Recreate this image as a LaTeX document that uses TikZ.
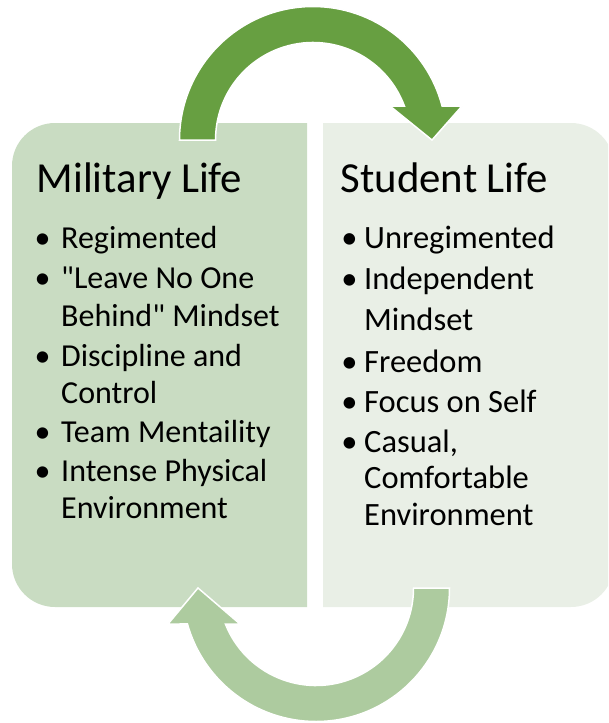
\documentclass[tikz,border=0pt]{standalone}
\usepackage{fontspec}
\setmainfont{Carlito}[Ligatures=TeXOff]
\definecolor{leftfill}{HTML}{C9DCC2}
\definecolor{rightfill}{HTML}{E9EFE6}
\definecolor{toparrow}{HTML}{679F41}
\definecolor{botarrow}{HTML}{ADCB9F}
\tikzset{
  ttl/.style={anchor=base west, inner sep=0pt, font=\fontsize{42.8}{50}\selectfont},
  ltxt/.style={anchor=base west, inner sep=0pt, font=\fontsize{32}{37}\selectfont},
  rtxt/.style={anchor=base west, inner sep=0pt, font=\fontsize{32.5}{38}\selectfont},
  lbul/.style={anchor=base, inner sep=0pt, font=\fontsize{32}{37}\selectfont},
  rbul/.style={anchor=base, inner sep=0pt, font=\fontsize{32.5}{38}\selectfont},
  cyclearrow/.style={draw=white, line width=1.5pt, line join=miter}
}
\begin{document}
\begin{tikzpicture}[x=1pt,y=-1pt]
\useasboundingbox (0,0) rectangle (608,723);
\clip (0,0) rectangle (608,723);
% panels
\fill[leftfill] (307,123) -- (55,123) arc[start angle=270, end angle=180, radius=43]
  -- (12,564) arc[start angle=180, end angle=90, radius=43] -- (307,607) -- cycle;
\fill[rightfill] (323,123) -- (571,123) arc[start angle=270, end angle=360, radius=43]
  -- (614,564) arc[start angle=0, end angle=90, radius=43] -- (323,607) -- cycle;
% top arrow
\filldraw[cyclearrow, fill=toparrow] (179.5,140) arc[start angle=180, end angle=345.25, radius=133.5]
  -- (462,106) -- (432,140) -- (390,106) -- (404.4,106)
  arc[start angle=339.59, end angle=180, radius=97.5] -- cycle;
% bottom arrow
\filldraw[cyclearrow, fill=botarrow] (449.5,588) arc[start angle=0, end angle=164.36, radius=133.5]
  -- (168,624) -- (198,588) -- (240,624) -- (225.4,624)
  arc[start angle=158.33, end angle=0, radius=97.5] -- cycle;
% titles
\node[ttl] (mt) at (36.5,192) {Military Life};
\node[ttl] (st) at (340.5,192) {Student Life};
% left bullets
\node[lbul] (lb1) at (42.5,248) {•};
\node[lbul] (lb2) at (42.5,288) {•};
\node[lbul] (lb3) at (42.5,366) {•};
\node[lbul] (lb4) at (42.5,442) {•};
\node[lbul] (lb5) at (42.5,481) {•};
\node[ltxt] (l1) at (61,248) {Regimented};
\node[ltxt] (l2) at (61,288) {"Leave No One};
\node[ltxt] (l3) at (61,326) {Behind" Mindset};
\node[ltxt] (l4) at (61,366) {Discipline and};
\node[ltxt] (l5) at (61,403) {Control};
\node[ltxt] (l6) at (61,442) {Team Mentaility};
\node[ltxt] (l7) at (61,481) {Intense Physical};
\node[ltxt] (l8) at (61,518) {Environment};
% right bullets
\node[rbul] (rb1) at (349.5,248) {•};
\node[rbul] (rb2) at (349.5,289) {•};
\node[rbul] (rb3) at (349.5,372) {•};
\node[rbul] (rb4) at (349.5,412) {•};
\node[rbul] (rb5) at (349.5,452) {•};
\node[rtxt] (r1) at (364,248) {Unregimented};
\node[rtxt] (r2) at (364,289) {Independent};
\node[rtxt] (r3) at (364,330) {Mindset};
\node[rtxt] (r4) at (364,372) {Freedom};
\node[rtxt] (r5) at (364,412) {Focus on Self};
\node[rtxt] (r6) at (364,452) {Casual,};
\node[rtxt] (r7) at (364,488) {Comfortable};
\node[rtxt] (r8) at (364,525) {Environment};
\end{tikzpicture}
\end{document}
